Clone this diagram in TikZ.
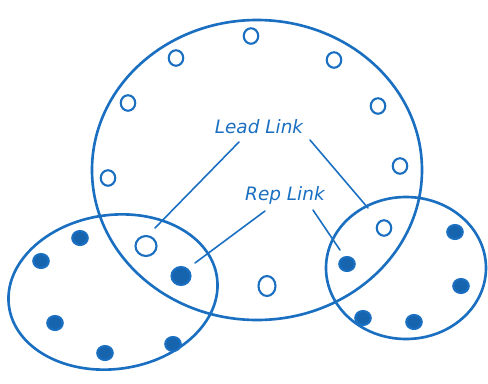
\documentclass[tikz,border=0pt]{standalone}
\usepackage{fontspec}
\setmainfont{DejaVu Sans}
\usetikzlibrary{shapes.geometric}
\definecolor{ink}{RGB}{26,111,193}
\begin{document}
\begin{tikzpicture}[x=0.02cm,y=-0.02cm,
  big/.style={draw=ink,line width=1.5pt},
  hole/.style={draw=ink,line width=1.2pt,ellipse,inner sep=0pt,minimum width=0.29cm,minimum height=0.31cm},
  dot/.style={draw=ink,fill=ink!90!black,line width=1.2pt,ellipse,inner sep=0pt,minimum width=0.31cm,minimum height=0.28cm},
  lnk/.style={draw=ink,line width=0.9pt,line cap=round},
  lbl/.style={text=ink,font=\itshape\fontsize{10.5}{12}\selectfont}]
\useasboundingbox (0,0) rectangle (488,383);
% large ring and two groups
\draw[big] (257,170) ellipse [x radius=165, y radius=150];
\draw[big,rotate around={8:(113,292)}] (113,292) ellipse [x radius=105, y radius=77];
\draw[big] (406,268) ellipse [x radius=80, y radius=71];
% open circles on the ring
\node[hole] (h1) at (251,36) {};
\node[hole] (h2) at (176,58) {};
\node[hole] (h3) at (334,60) {};
\node[hole] (h4) at (128,103) {};
\node[hole] (h5) at (378,106) {};
\node[hole] (h6) at (108,178) {};
\node[hole] (h7) at (400,166) {};
\node[hole,minimum width=0.42cm,minimum height=0.40cm] (h8) at (146,246) {};
\node[hole] (h9) at (384,228) {};
\node[hole,minimum width=0.34cm,minimum height=0.40cm] (h10) at (267,286) {};
% filled members, left group
\node[dot] (a1) at (80,238) {};
\node[dot] (a2) at (41,261) {};
\node[dot] (a3) at (55,323) {};
\node[dot] (a4) at (105,353) {};
\node[dot] (a5) at (173,344) {};
\node[dot,minimum width=0.38cm,minimum height=0.36cm] (a6) at (181,276) {};
% filled members, right group
\node[dot] (b1) at (455,232) {};
\node[dot] (b2) at (461,286) {};
\node[dot] (b3) at (363,318) {};
\node[dot] (b4) at (414,322) {};
\node[dot] (b5) at (347,264) {};
% labels
\node[lbl] (lead) at (259,127) {Lead Link};
\node[lbl] (rep) at (285,195) {Rep Link};
% connector ends
\coordinate (ll1) at (239,142);
\coordinate (ll2) at (155,228);
\coordinate (lr1) at (310,140);
\coordinate (lr2) at (368,208);
\coordinate (rl1) at (265,211);
\coordinate (rl2) at (195,263);
\coordinate (rr1) at (313,210);
\coordinate (rr2) at (340,250);
\draw[lnk] (ll1) -- (ll2);
\draw[lnk] (lr1) -- (lr2);
\draw[lnk] (rl1) -- (rl2);
\draw[lnk] (rr1) -- (rr2);
\end{tikzpicture}
\end{document}
